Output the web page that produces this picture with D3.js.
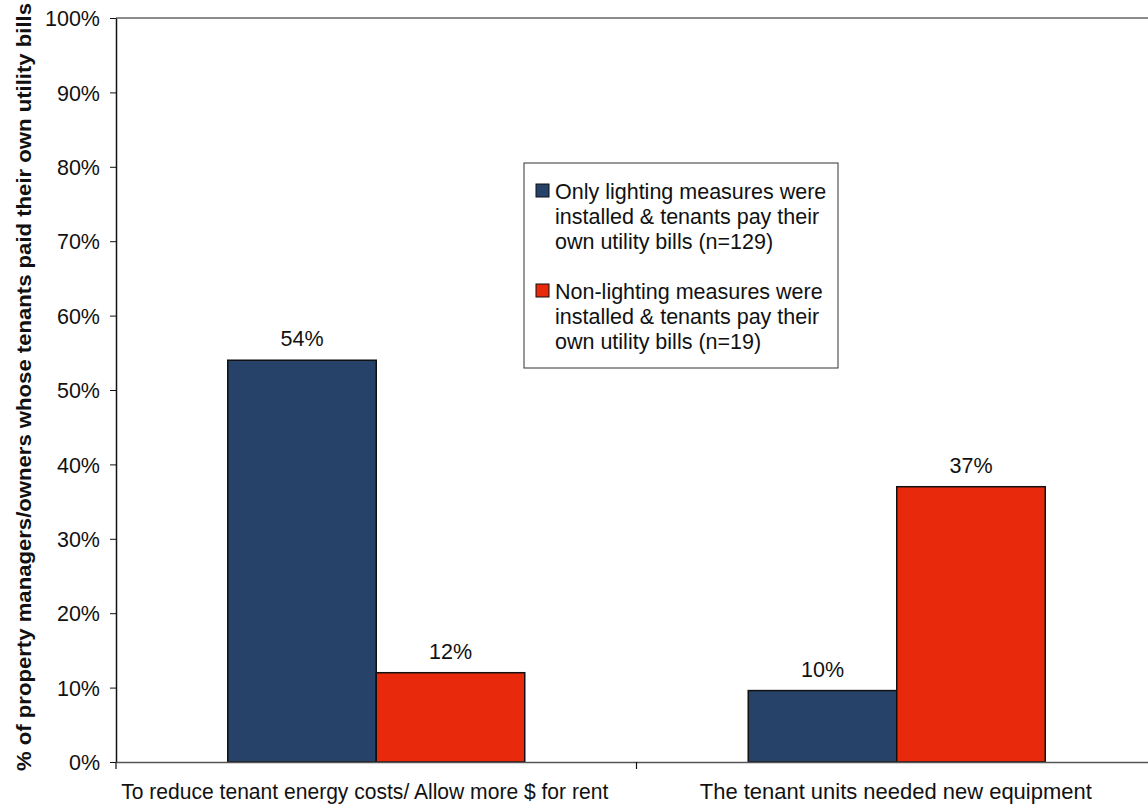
<!DOCTYPE html>
<html><head><meta charset="utf-8">
<script src="https://cdn.jsdelivr.net/npm/d3@7"></script>
<style>body{margin:0;background:#fff}svg{display:block}text{font-family:"Liberation Sans",Arial,sans-serif}</style>
</head><body><svg id="c" width="1148" height="806"></svg>
<script>
const categories = ["To reduce tenant energy costs/ Allow more $ for rent", "The tenant units needed new equipment"];
const seriesNames = [
  ["Only lighting measures were", "installed & tenants pay their", "own utility bills (n=129)"],
  ["Non-lighting measures were", "installed & tenants pay their", "own utility bills (n=19)"]
];
const onlyLighting = [54, 9.6];
const nonLighting = [12, 37];
const valueLabels = [["54%", "10%"], ["12%", "37%"]];
const yTicks = [0,10,20,30,40,50,60,70,80,90,100];
const colors = ["#264269", "#E8290B"];

const FS = 21.5;
const svg = d3.select("#c");
const L = 116, R = 1157, T = 18, B = 762;
const x = d3.scaleBand().domain(categories).range([L, R]).paddingInner(0).paddingOuter(0);
const bw = 148.5;
const y = d3.scaleLinear().domain([0, 100]).range([B, T]);
const series = [onlyLighting, nonLighting];

// top border
svg.append("line").attr("x1", L).attr("x2", 1148).attr("y1", T).attr("y2", T).attr("stroke", "#8c8c8c").attr("stroke-width", 2);

series.forEach((vals, si) => {
  const g = svg.append("g");
  g.selectAll("rect").data(vals).join("rect")
    .attr("x", (d, i) => x(categories[i]) + x.bandwidth()/2 - bw + si*bw)
    .attr("y", d => y(d)).attr("width", bw).attr("height", d => B - y(d))
    .attr("fill", colors[si]).attr("stroke", "#111").attr("stroke-width", 1.5);
  g.selectAll("text").data(vals).join("text")
    .attr("x", (d, i) => x(categories[i]) + x.bandwidth()/2 - bw/2 + si*bw)
    .attr("y", d => y(d) - 14).attr("text-anchor", "middle")
    .attr("font-size", FS).attr("fill", "#111")
    .text((d, i) => valueLabels[si][i]);
});

// y axis
const ya = svg.append("g").attr("transform", `translate(${L},0)`)
  .call(d3.axisLeft(y).tickValues(yTicks).tickFormat(d => d + "%").tickSize(6).tickSizeOuter(0));
ya.select(".domain").attr("stroke", "#111").attr("stroke-width", 1.5);
ya.selectAll(".tick line").attr("stroke", "#111");
ya.selectAll(".tick text").attr("font-size", FS).attr("fill", "#111").attr("x", -16).attr("dy", "0.36em").style("font-family", "Liberation Sans, Arial, sans-serif");

// x axis
const xa = svg.append("g").attr("transform", `translate(0,${B})`)
  .call(d3.axisBottom(x).tickSize(0).tickSizeOuter(0));
xa.select(".domain").attr("stroke", "#555").attr("stroke-width", 1.5);
const labelShift = [-11.5, -1];
const labelWidth = [487, 392];
xa.selectAll(".tick text").attr("font-size", FS).attr("fill", "#111").attr("y", 0).attr("dy", "37px")
  .attr("dx", (d, i) => labelShift[i])
  .attr("textLength", (d, i) => labelWidth[i]).attr("lengthAdjust", "spacingAndGlyphs")
  .style("font-family", "Liberation Sans, Arial, sans-serif");
// category separator ticks
svg.selectAll("line.sep").data([L, x(categories[1])]).join("line").attr("class", "sep")
  .attr("x1", d => d).attr("x2", d => d).attr("y1", B).attr("y2", B + 7).attr("stroke", "#111").attr("stroke-width", 1.2);

// y title
svg.append("text").attr("transform", `translate(31,387) rotate(-90)`)
  .attr("text-anchor", "middle").attr("font-size", 20).attr("font-weight", "bold").attr("fill", "#111")
  .attr("textLength", 768).attr("lengthAdjust", "spacingAndGlyphs")
  .text("% of property managers/owners whose tenants paid their own utility bills");

// legend
const lg = svg.append("g");
lg.append("rect").attr("x", 524).attr("y", 163).attr("width", 314).attr("height", 205).attr("fill", "#fff").attr("stroke", "#333").attr("stroke-width", 1);
seriesNames.forEach((lines, si) => {
  const y0 = 199 + si * 100;
  lg.append("rect").attr("x", 536).attr("y", y0 - 15).attr("width", 13).attr("height", 13).attr("fill", colors[si]).attr("stroke", "#111").attr("stroke-width", 1);
  lines.forEach((t, li) => {
    lg.append("text").attr("x", 555).attr("y", y0 + li * 25).attr("font-size", FS).attr("fill", "#111").text(t);
  });
});
</script></body></html>
